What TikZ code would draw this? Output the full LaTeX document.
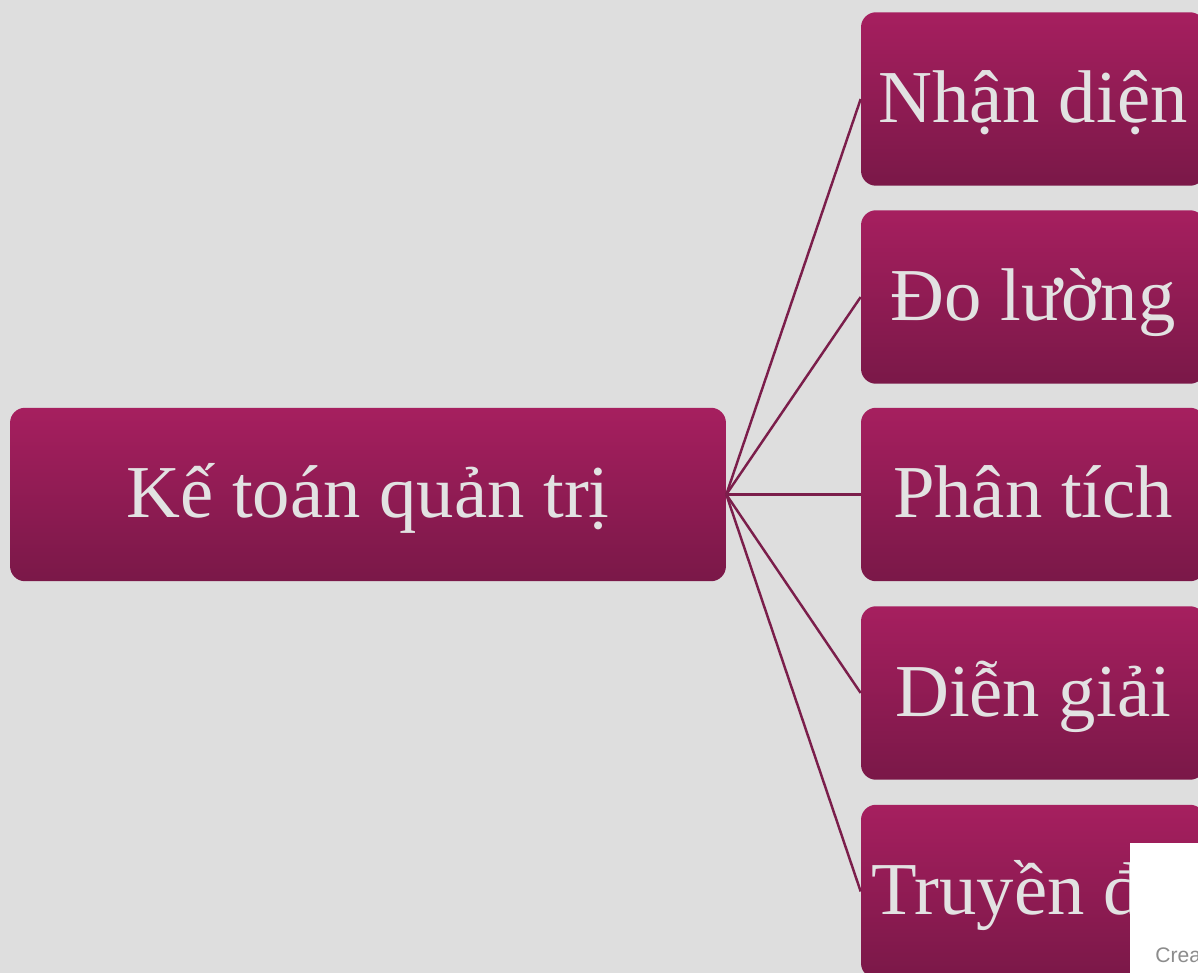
\documentclass[tikz,border=0pt]{standalone}
\usepackage{fontspec}
\setmainfont{Liberation Serif}
\newfontfamily\wmfont{Liberation Sans}
\usetikzlibrary{positioning}
\definecolor{bggray}{HTML}{DEDEDE}
\definecolor{boxtop}{HTML}{A61F5F}
\definecolor{boxbot}{HTML}{7A1848}
\definecolor{linecol}{HTML}{7B1E4B}
\definecolor{txtcol}{HTML}{E2E2E2}
\begin{document}
\begin{tikzpicture}[x=0.02cm,y=-0.02cm]
	\clip (0,0) rectangle (1198,973);
	\fill[bggray] (0,0) rectangle (1198,973);

	\begin{scope}[every node/.style={rounded corners=0.3cm,top color=boxtop,bottom color=boxbot,
		text=txtcol,font=\fontsize{42.5}{50}\selectfont,text height=38pt,text depth=11.5pt,
		minimum height=3.47cm,inner sep=0pt}]
		\node[minimum width=14.32cm] (kt) at (368,494.5) {Kế toán quản trị};
		\node[minimum width=6.88cm] (nd) at (1033,99) {Nhận diện};
		\node[minimum width=6.88cm] (dl) at (1033,297) {Đo lường};
		\node[minimum width=6.88cm] (pt) at (1033,494.5) {Phân tích};
		\node[minimum width=6.88cm] (dg) at (1033,693) {Diễn giải};
		\node[minimum width=6.88cm] (td) at (1033,891.5) {Truyền đạt};
	\end{scope}

	\begin{scope}[every edge/.style={draw=linecol,line width=1.4pt}]
		\path (kt.east) edge (nd.west);
		\path (kt.east) edge (dl.west);
		\path (kt.east) edge (pt.west);
		\path (kt.east) edge (dg.west);
		\path (kt.east) edge (td.west);
	\end{scope}

	\fill[white] (1130,843) rectangle (1198,973);
	\node[anchor=base west,inner sep=0pt,text=gray!90,font=\wmfont\fontsize{12}{14}\selectfont] (wm) at (1155,962) {Crea};
\end{tikzpicture}
\end{document}
